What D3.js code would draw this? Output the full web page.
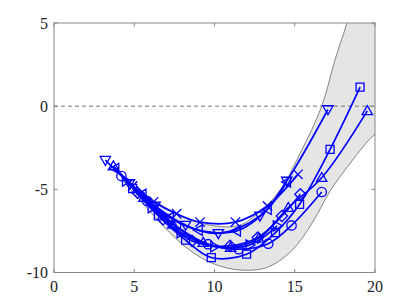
<!DOCTYPE html>
<html><head><meta charset="utf-8">
<script src="https://cdn.jsdelivr.net/npm/d3@7"></script>
<style>
html,body{margin:0;padding:0;background:#fff;}
svg{display:block;}
text{font-family:"Liberation Serif","Times New Roman",Times,serif;}
</style></head>
<body>
<svg id="chart" width="415" height="307"></svg>
<script>
// ---- data ----
const xTicks = [0, 5, 10, 15, 20];
const yTicks = [-10, -5, 0, 5];
const yTickLabels = ["-10", "-5", "0", "5"];

const seriesNames = ["o", "x", "s", "d", "^", "v", "<", ">"];
const seriesO = [[4.2,-4.2],[5.8,-5.7],[7.6,-7.2],[9.6,-8.3],[11.5,-8.6],[13.35,-8.27],[14.8,-7.17],[16.68,-5.16]];
const seriesX = [[4.9,-4.8],[6.2,-5.75],[7.64,-6.47],[9.1,-6.97],[11.3,-6.97],[13.3,-6.0],[15.2,-4.1]];
const seriesS = [[4.9,-4.95],[6.5,-6.6],[8.2,-8.05],[9.8,-9.1],[12.0,-8.9],[13.8,-7.6],[15.3,-5.9],[17.2,-2.6],[19.07,1.14]];
const seriesD = [[5.2,-5.2],[6.8,-6.8],[8.6,-8.1],[10.97,-8.4],[12.7,-7.9],[14.2,-6.6],[15.35,-5.3]];
const seriesUp = [[3.7,-3.6],[5.6,-5.5],[7.4,-7.1],[9.3,-8.2],[11.0,-8.5],[12.75,-7.95],[14.6,-6.1],[16.68,-4.3],[19.52,-0.28]];
const seriesDown = [[3.2,-3.25],[4.7,-4.65],[6.3,-6.0],[8.2,-7.15],[10.24,-7.65],[12.83,-6.6],[14.5,-4.5],[17.07,-0.2]];
const seriesLeft = [[3.8,-3.75],[5.5,-5.3],[7.2,-6.7],[9.0,-7.45],[11.38,-7.5],[13.3,-6.2],[14.5,-4.56]];
const seriesRight = [[4.5,-4.5],[6.1,-6.1],[7.9,-7.6],[10.0,-8.45],[12.2,-8.35],[13.9,-7.2]];

const bandUpper = [[4.3,-4.3],[6,-5.5],[8,-6.65],[10,-7.2],[11.6,-7.15],[12.8,-6.35],[14.08,-5.06],[15.33,-2.85],[16.68,0],[17.5,2.77],[18.24,5],[18.9,8]];
const bandLower = [[4.3,-4.5],[5.5,-5.8],[6.8,-7.2],[8.47,-8.67],[10,-9.5],[11.6,-9.85],[13.25,-9.7],[14.8,-8.7],[16.1,-7.0],[17.2,-5.1],[18.4,-3.5],[19.6,-2.05],[20.6,-1.1],[22,2.5],[23,7]];

const seriesList = [seriesO, seriesX, seriesS, seriesD, seriesUp, seriesDown, seriesLeft, seriesRight];

// ---- layout ----
const L = 54, R = 375, T = 23, B = 272.5;
const x = d3.scaleLinear().domain([0, 20]).range([L, R]);
const y = d3.scaleLinear().domain([-10, 5]).range([B, T]);
const svg = d3.select("#chart");
const blue = "#0000ff";

svg.append("defs").append("clipPath").attr("id","clip")
  .append("rect").attr("x",L).attr("y",T).attr("width",R-L).attr("height",B-T);

const g = svg.append("g").attr("clip-path","url(#clip)");

// band
const edgeLine = d3.line().x(d=>x(d[0])).y(d=>y(d[1])).curve(d3.curveCatmullRom);
const upPath = edgeLine(bandUpper);
const lowRevPath = edgeLine(bandLower.slice().reverse()).replace(/^M/, "L");
g.append("path").attr("d", upPath + lowRevPath + "Z")
  .attr("fill","#e5e5e5").attr("stroke","none");
[bandUpper, bandLower].forEach(edge => {
  g.append("path").attr("d", edgeLine(edge))
    .attr("fill","none").attr("stroke","#555").attr("stroke-width",0.7);
});

// zero line
g.append("line").attr("x1",x(0)).attr("x2",x(20)).attr("y1",y(0)).attr("y2",y(0))
  .attr("stroke","#777").attr("stroke-width",1).attr("stroke-dasharray","4,3");

// curves
const line = d3.line().x(d=>x(d[0])).y(d=>y(d[1])).curve(d3.curveCatmullRom.alpha(0.5));
seriesList.forEach(s => {
  g.append("path").attr("d", line(s)).attr("fill","none")
    .attr("stroke",blue).attr("stroke-width",1.7);
});

// markers
function markerPath(type){
  const r = 4.7;
  switch(type){
    case "o": return d3.symbol().type(d3.symbolCircle).size(Math.PI*r*r)();
    case "x": return `M${-r},${-r}L${r},${r}M${-r},${r}L${r},${-r}`;
    case "s": return `M${-r*0.85},${-r*0.85}h${1.7*r}v${1.7*r}h${-1.7*r}Z`;
    case "d": return `M0,${-r*1.2}L${r*1.2},0L0,${r*1.2}L${-r*1.2},0Z`;
    case "^": return `M0,${-r*1.1}L${r*1.1},${r*0.8}L${-r*1.1},${r*0.8}Z`;
    case "v": return `M0,${r*1.1}L${r*1.1},${-r*0.8}L${-r*1.1},${-r*0.8}Z`;
    case "<": return `M${-r*1.1},0L${r*0.8},${-r*1.1}L${r*0.8},${r*1.1}Z`;
    case ">": return `M${r*1.1},0L${-r*0.8},${-r*1.1}L${-r*0.8},${r*1.1}Z`;
  }
}
seriesList.forEach((s, i) => {
  g.selectAll(null).data(s).enter().append("path")
    .attr("d", markerPath(seriesNames[i]))
    .attr("transform", d=>`translate(${x(d[0])},${y(d[1])})`)
    .attr("fill","none").attr("stroke",blue).attr("stroke-width",1.3);
});

// box
svg.append("rect").attr("x",L).attr("y",T).attr("width",R-L).attr("height",B-T)
  .attr("fill","none").attr("stroke","#858585").attr("stroke-width",1);

// ticks
const tk = 3.5;
xTicks.forEach(v=>{
  svg.append("line").attr("x1",x(v)).attr("x2",x(v)).attr("y1",B).attr("y2",B-tk).attr("stroke","#858585");
  svg.append("line").attr("x1",x(v)).attr("x2",x(v)).attr("y1",T).attr("y2",T+tk).attr("stroke","#858585");
});
yTicks.forEach(v=>{
  svg.append("line").attr("x1",L).attr("x2",L+tk).attr("y1",y(v)).attr("y2",y(v)).attr("stroke","#858585");
  svg.append("line").attr("x1",R).attr("x2",R-tk).attr("y1",y(v)).attr("y2",y(v)).attr("stroke","#858585");
});

// labels
svg.selectAll(null).data(xTicks).enter().append("text")
  .attr("x", d=>x(d)).attr("y", 292)
  .attr("text-anchor","middle").attr("font-size",16)
  .attr("fill","#222").text(d=>String(d));
svg.selectAll(null).data(yTicks).enter().append("text")
  .attr("x", 48).attr("y", d=>y(d)+5.5)
  .attr("text-anchor","end").attr("font-size",16)
  .attr("fill","#222").text((d,i)=>yTickLabels[i]);
</script>
</body></html>
